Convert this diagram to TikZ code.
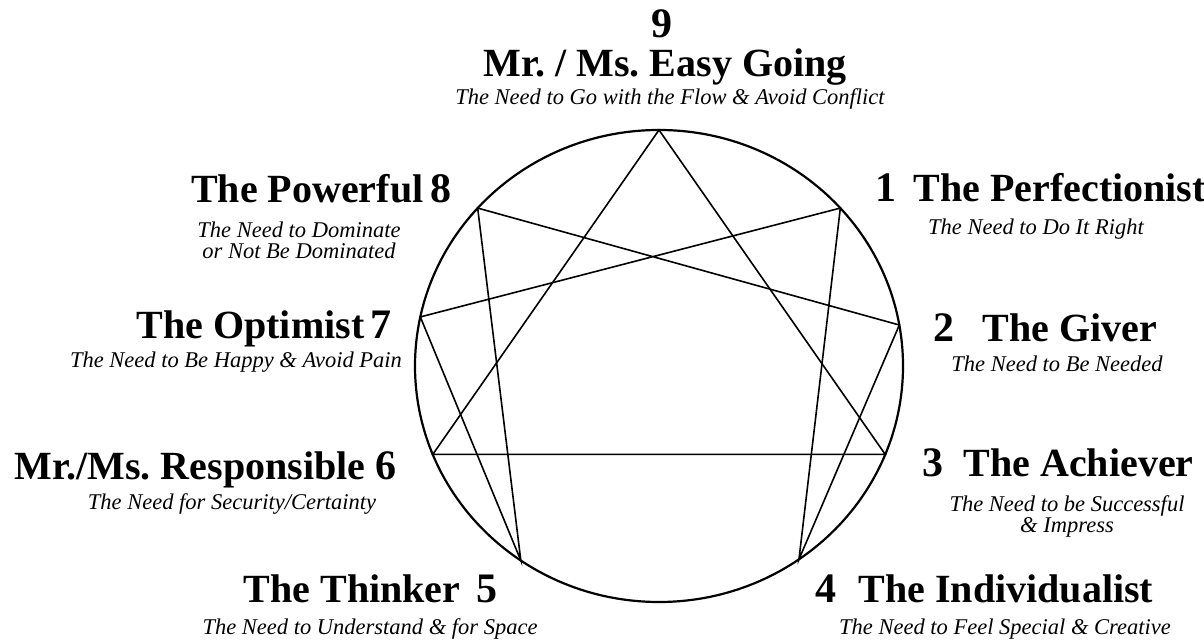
\documentclass[tikz,border=0pt]{standalone}
\usepackage{fontspec}
\setmainfont{Liberation Serif}
\usetikzlibrary{positioning}
\frenchspacing

\begin{document}
\begin{tikzpicture}[x=1pt,y=1pt,
  typenum/.style={font=\fontsize{42}{46}\selectfont\bfseries,inner sep=0pt},
  typetitle/.style={font=\fontsize{40}{44}\selectfont\bfseries,inner sep=0pt},
  typeneed/.style={font=\fontsize{22.5}{21}\selectfont\itshape,inner sep=0pt,align=center}]
\useasboundingbox (0,0) rectangle (1204,642);
\coordinate (c) at (659,276);
\draw[line width=2.2pt] (c) ellipse [x radius=244, y radius=236];
\foreach \n/\a in {9/90,1/42,2/10,3/-22,4/-55,5/-124.5,6/-158,7/168,8/138}
  \coordinate (p\n) at ([shift={(\a:244 and 236)}]c);
\draw[line width=1.6pt] (p9) -- (p3) -- (p6) -- cycle;
\draw[line width=1.6pt] (p1) -- (p4) -- (p2) -- (p8) -- (p5) -- (p7) -- cycle;
% top
\node[typenum,anchor=base] (n9) at (662,604) {9};
\node[typetitle,anchor=base] (t9) at (665,565) {Mr. / Ms. Easy Going};
\node[typeneed,anchor=base] (s9) at (670,537) {The Need to Go with the Flow \& Avoid Conflict};
% right side
\node[typenum,anchor=base west] (n1) at (875,440) {1};
\node[typetitle,base right=17pt of n1] (t1) {The Perfectionist};
\node[typeneed,anchor=base] (s1) at (1036,407) {The Need to Do It Right};
\node[typenum,anchor=base west] (n2) at (933,300) {2};
\node[typetitle,base right=28pt of n2] (t2) {The Giver};
\node[typeneed,anchor=base] (s2) at (1057,270) {The Need to Be Needed};
\node[typenum,anchor=base west] (n3) at (922,165) {3};
\node[typetitle,base right=20pt of n3] (t3) {The Achiever};
\node[typeneed,anchor=north] (s3) at (1067,147) {The Need to be Successful\\\& Impress};
\node[typenum,anchor=base west] (n4) at (815,39) {4};
\node[typetitle,base right=22pt of n4] (t4) {The Individualist};
\node[typeneed,anchor=base] (s4) at (1005,7) {The Need to Feel Special \& Creative};
% left side
\node[typenum,anchor=base east] (n5) at (498,39) {5};
\node[typetitle,base left=16pt of n5] (t5) {The Thinker};
\node[typeneed,anchor=base] (s5) at (370,7) {The Need to Understand \& for Space};
\node[typenum,anchor=base east] (n6) at (397,162) {6};
\node[typetitle,base left=10pt of n6] (t6) {Mr./Ms. Responsible};
\node[typeneed,anchor=base] (s6) at (232,132) {The Need for Security/Certainty};
\node[typenum,anchor=base east] (n7) at (392,303) {7};
\node[typetitle,base left=6pt of n7] (t7) {The Optimist};
\node[typeneed,anchor=base] (s7) at (236,274) {The Need to Be Happy \& Avoid Pain};
\node[typenum,anchor=base east] (n8) at (452,439) {8};
\node[typetitle,base left=7pt of n8] (t8) {The Powerful};
\node[typeneed,anchor=north] (s8) at (299,420) {The Need to Dominate\\or Not Be Dominated};
\end{tikzpicture}
\end{document}
